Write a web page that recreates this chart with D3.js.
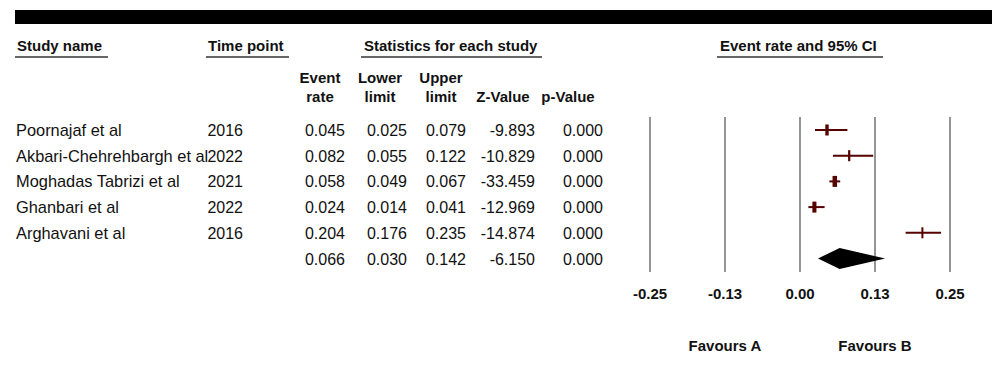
<!DOCTYPE html>
<html>
<head>
<meta charset="utf-8">
<script src="https://cdn.jsdelivr.net/npm/d3@7/dist/d3.min.js"></script>
<style>
  body { margin: 0; background: #fff; }
  svg { display: block; font-family: "Liberation Sans", Arial, sans-serif; }
</style>
</head>
<body>
<svg id="chart" width="1000" height="367"></svg>
<script>
// study rows
const studies = ['Poornajaf et al', 'Akbari-Chehrehbargh et al', 'Moghadas Tabrizi et al', 'Ghanbari et al', 'Arghavani et al'];
const years = ['2016', '2022', '2021', '2022', '2016'];
const eventRate = [0.045, 0.082, 0.058, 0.024, 0.204];
const lowerLimit = [0.025, 0.055, 0.049, 0.014, 0.176];
const upperLimit = [0.079, 0.122, 0.067, 0.041, 0.235];
const zValue = [-9.893, -10.829, -33.459, -12.969, -14.874];
const pValue = [0.000, 0.000, 0.000, 0.000, 0.000];
// relative weights
const weights = [20.1, 19.6, 20.6, 20.4, 19.5];

// pooled estimate
const pooled = [0.066, 0.030, 0.142, -6.150, 0.000]; // rate, lower, upper, z, p

const tickValues = [-0.25, -0.125, 0, 0.125, 0.25];
const tickLabels = ['-0.25', '-0.13', '0.00', '0.13', '0.25'];
const favourLabels = ['Favours A', 'Favours B'];

const svg = d3.select('#chart');
const INK = '#111';
const MARKER = '#560000';

// scales
const x = d3.scaleLinear().domain([-0.25, 0.25]).range([650, 950]);
const rowY = d3.scaleLinear().domain([0, 5]).range([130, 258.5]);
const markerW = d3.scaleLinear().domain(d3.extent(weights)).range([2, 4.5]);

// top black band
svg.append('rect')
  .attr('x', 15).attr('y', 10)
  .attr('width', 977).attr('height', 14)
  .attr('fill', '#000');

// group headers with underlines
const headers = [
  { text: 'Study name', x0: 15, x1: 108, tx: 17 },
  { text: 'Time point', x0: 206, x1: 289, tx: 208 },
  { text: 'Statistics for each study', x0: 361, x1: 542, tx: 364 },
  { text: 'Event rate and 95% CI', x0: 717, x1: 883, tx: 720 }
];
headers.forEach(h => {
  svg.append('text')
    .attr('x', h.tx).attr('y', 51)
    .style('font-size', '15px')
    .style('font-weight', 'bold')
    .style('fill', INK)
    .text(h.text);
  svg.append('line')
    .attr('x1', h.x0).attr('x2', h.x1)
    .attr('y1', 57).attr('y2', 57)
    .attr('stroke', '#333').attr('stroke-width', 1.5);
});

// column definitions for the statistics table
const cols = [
  { head: ['Event', 'rate'], cx: 320, right: 345, vals: eventRate, pooledIdx: 0 },
  { head: ['Lower', 'limit'], cx: 380, right: 407, vals: lowerLimit, pooledIdx: 1 },
  { head: ['Upper', 'limit'], cx: 441, right: 466, vals: upperLimit, pooledIdx: 2 },
  { head: ['', 'Z-Value'], cx: 503, right: 535, vals: zValue, pooledIdx: 3 },
  { head: ['', 'p-Value'], cx: 568, right: 603, vals: pValue, pooledIdx: 4 }
];
const fmt = d => d3.format('.3f')(d).replace('−', '-');

cols.forEach(c => {
  c.head.forEach((line, i) => {
    if (!line) return;
    svg.append('text')
      .attr('x', c.cx).attr('y', 83 + i * 19)
      .attr('text-anchor', 'middle')
      .style('font-size', '15px')
      .style('font-weight', 'bold')
      .style('fill', INK)
      .text(line);
  });
  svg.selectAll(null)
    .data(c.vals.concat([pooled[c.pooledIdx]]))
    .join('text')
    .attr('x', c.right)
    .attr('y', (d, i) => rowY(i) + 6)
    .attr('text-anchor', 'end')
    .style('font-size', '16px')
    .style('fill', INK)
    .text(fmt);
});

// study names and years
svg.selectAll('.study')
  .data(studies)
  .join('text')
  .attr('class', 'study')
  .attr('x', 16)
  .attr('y', (d, i) => rowY(i) + 6)
  .style('font-size', '16.4px')
  .style('fill', INK)
  .text(d => d);

svg.selectAll('.year')
  .data(years)
  .join('text')
  .attr('class', 'year')
  .attr('x', 243)
  .attr('y', (d, i) => rowY(i) + 6)
  .attr('text-anchor', 'end')
  .style('font-size', '16px')
  .style('fill', INK)
  .text(d => d);

// vertical reference lines
svg.selectAll('.vline')
  .data(tickValues)
  .join('line')
  .attr('class', 'vline')
  .attr('x1', d => x(d)).attr('x2', d => x(d))
  .attr('y1', 117).attr('y2', 272)
  .attr('stroke', '#7a7a7a')
  .attr('stroke-width', 1.6);

// tick labels
svg.selectAll('.tick-label')
  .data(tickValues)
  .join('text')
  .attr('class', 'tick-label')
  .attr('x', d => x(d))
  .attr('y', 299)
  .attr('text-anchor', 'middle')
  .style('font-size', '15px')
  .style('font-weight', 'bold')
  .style('fill', INK)
  .text((d, i) => tickLabels[i]);

// favours labels, centred at -0.125 and 0.125
svg.selectAll('.favour')
  .data(favourLabels)
  .join('text')
  .attr('class', 'favour')
  .attr('x', (d, i) => x(i === 0 ? -0.125 : 0.125))
  .attr('y', 351)
  .attr('text-anchor', 'middle')
  .style('font-size', '15px')
  .style('font-weight', 'bold')
  .style('fill', INK)
  .text(d => d);

// confidence intervals
const rows = studies.map((s, i) => ({ rate: eventRate[i], lo: lowerLimit[i], hi: upperLimit[i], w: weights[i], i }));

svg.selectAll('.ci')
  .data(rows)
  .join('line')
  .attr('class', 'ci')
  .attr('x1', d => x(d.lo)).attr('x2', d => x(d.hi))
  .attr('y1', d => rowY(d.i)).attr('y2', d => rowY(d.i))
  .attr('stroke', MARKER)
  .attr('stroke-width', 2);

svg.selectAll('.marker')
  .data(rows)
  .join('rect')
  .attr('class', 'marker')
  .attr('x', d => x(d.rate) - markerW(d.w) / 2)
  .attr('y', d => rowY(d.i) - 5.5)
  .attr('width', d => markerW(d.w))
  .attr('height', 11)
  .attr('fill', MARKER);

// pooled diamond
const py = rowY(5);
svg.append('path')
  .attr('d', `M${x(pooled[1])},${py} L${x(pooled[0])},${py - 10.5} L${x(pooled[2])},${py} L${x(pooled[0])},${py + 10.5} Z`)
  .attr('fill', '#000');
</script>
</body>
</html>
